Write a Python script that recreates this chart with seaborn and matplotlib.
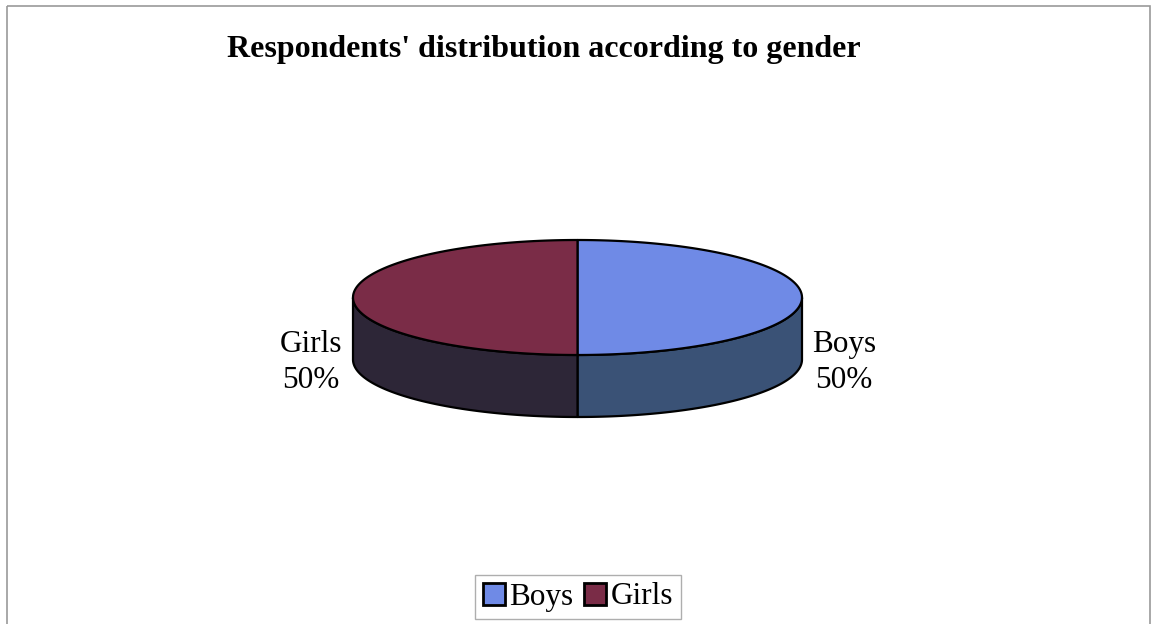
import numpy as np
import matplotlib
matplotlib.use("Agg")
import matplotlib.pyplot as plt
from matplotlib.patches import Polygon, Rectangle, Patch
import seaborn as sns

# Survey data
categories = ["Boys", "Girls"]
shares = [50, 50]
title = "Respondents' distribution according to gender"

sns.set_theme(style="white")
plt.rcParams["font.family"] = ["Liberation Serif", "DejaVu Serif"]
plt.rcParams["text.color"] = "black"

top_colors = sns.color_palette(["#6f8ae6", "#7a2c47"])
side_colors = sns.color_palette(["#3a5276", "#2d2637"])

W, H = 1155, 624
fig = plt.figure(figsize=(W / 100, H / 100), dpi=100)
ax = fig.add_axes([0, 0, 1, 1])
ax.set_xlim(0, W)
ax.set_ylim(H, 0)
ax.axis("off")

# outer chart frame (runs off the bottom edge)
ax.add_patch(Rectangle((7, 6), 1143, 640, fill=False, edgecolor="#9a9a9a", lw=1.2))

ax.text(544, 50, title, ha="center", va="center", fontsize=23, fontweight="bold")

# 3D pie geometry
cx, cy, a, b, depth = 577.5, 297.5, 224.5, 57.5, 62

def rim(t):
    return cx + a * np.cos(t), cy - b * np.sin(t)

total = float(sum(shares))
start = np.pi / 2
spans = []
for v in shares:
    sweep = 2 * np.pi * v / total
    spans.append((start, start - sweep))
    start -= sweep

# front walls
for (t0, t1), col in zip(spans, side_colors):
    ts = np.linspace(t0, t1, 400)
    front = np.sin(ts) <= 1e-9
    runs, cur = [], []
    for t, f in zip(ts, front):
        if f:
            cur.append(t)
        elif cur:
            runs.append(cur); cur = []
    if cur:
        runs.append(cur)
    for run in runs:
        run = np.array(run)
        xs, ys = rim(run)
        pts = np.column_stack([np.r_[xs, xs[::-1]], np.r_[ys, ys[::-1] + depth]])
        ax.add_patch(Polygon(pts, closed=True, facecolor=col, edgecolor="black",
                             lw=1.6, joinstyle="round"))

# top faces
for (t0, t1), col in zip(spans, top_colors):
    ts = np.linspace(t0, t1, 400)
    xs, ys = rim(ts)
    pts = np.column_stack([np.r_[cx, xs], np.r_[cy, ys]])
    ax.add_patch(Polygon(pts, closed=True, facecolor=col, edgecolor="black",
                         lw=1.6, joinstyle="round"))

# slice labels placed outside the rim at each slice's mid-angle
for (t0, t1), name, v in zip(spans, categories, shares):
    tm = (t0 + t1) / 2
    lx = cx + (a + 42) * np.cos(tm)
    ly = cy - (b + 10) * np.sin(tm) + 65
    ax.text(lx, ly, f"{name}\n{v / total:.0%}", ha="center", va="center",
            fontsize=22.5, linespacing=1.35)

handles = [Patch(facecolor=c, edgecolor="black", lw=2.0) for c in top_colors]
leg = fig.legend(handles, categories, loc="center", bbox_to_anchor=(578 / W, 1 - 597 / H),
                 ncol=2, frameon=True, fancybox=False, fontsize=22.5,
                 handlelength=0.7, handleheight=0.7, handletextpad=0.15,
                 columnspacing=0.35, borderpad=0.25, borderaxespad=0)
leg.get_frame().set_edgecolor("#9a9a9a")
leg.get_frame().set_linewidth(1.0)

fig.savefig("out.png", dpi=100, facecolor="white")
